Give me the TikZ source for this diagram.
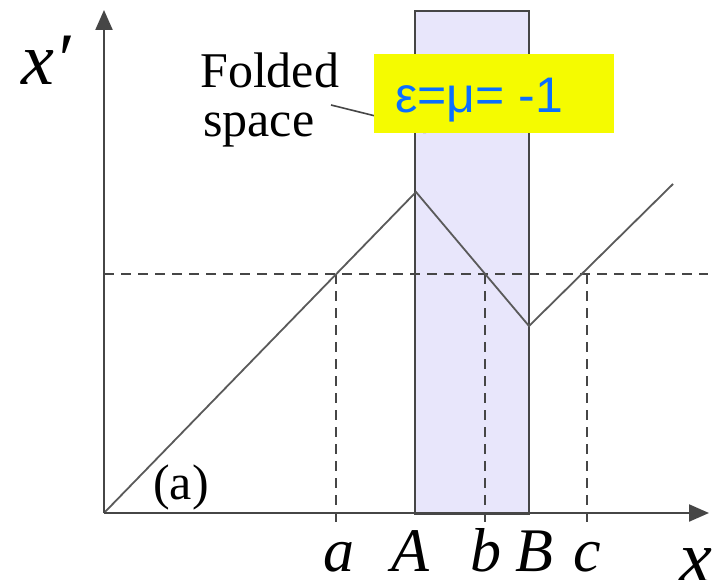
\documentclass[tikz,border=0pt]{standalone}
\usepackage{fontspec}
\setmainfont{Liberation Serif}
\newfontfamily\sansf{Liberation Sans}
\usetikzlibrary{arrows.meta}
\definecolor{lav}{RGB}{232,230,251}
\definecolor{edge}{RGB}{70,70,70}
\definecolor{ink}{RGB}{90,90,90}
\definecolor{hiyel}{RGB}{245,251,0}
\definecolor{hiblue}{RGB}{10,110,255}
\tikzset{
  axisline/.style={line width=2.2pt, draw=edge, -{Triangle[length=20pt,width=17pt]}},
  curve/.style={line width=1.8pt, draw=ink, line join=miter},
  dashline/.style={line width=1.8pt, draw=edge, dash pattern=on 10pt off 7pt},
  ticklab/.style={anchor=base, inner sep=0pt, font=\fontsize{62}{70}\selectfont\itshape},
  axlab/.style={inner sep=0pt, font=\fontsize{74}{80}\selectfont\itshape},
  txt/.style={anchor=base west, inner sep=0pt, font=\fontsize{50}{56}\selectfont},
}
\begin{document}
\begin{tikzpicture}[x=1pt,y=-1pt]
\useasboundingbox (0,0) rectangle (725,580);
\fill[white] (0,0) rectangle (725,580);
% slab
\node[fill=lav, draw=edge, line width=2.5pt, minimum width=114pt, minimum height=503pt,
      anchor=north west, inner sep=0pt, outer sep=0pt] (slab) at (415,11) {};
% key points
\coordinate (O) at (104,513);
\coordinate (ytip) at (104,10);
\coordinate (xtip) at (709,513);
\coordinate (P) at (416,192);
\coordinate (V) at (529,326);
\coordinate (E) at (673,184);
\coordinate (hl) at (104,274);
\coordinate (hr) at (708,274);
\coordinate (at) at (336,274);
\coordinate (ab) at (336,523);
\coordinate (bt) at (485,274);
\coordinate (bb) at (485,527);
\coordinate (ct) at (587,274);
\coordinate (cb) at (587,527);
% dashed lines
\draw[dashline] (hl) -- (hr);
\draw[dashline] (at) -- (ab);
\draw[dashline] (bt) -- (bb);
\draw[dashline] (ct) -- (cb);
% curve
\draw[curve] (O) -- (P) -- (V) -- (E);
% axes
\draw[axisline] (O) -- (ytip);
\draw[axisline] (O) -- (xtip);
% labels
\node[axlab, anchor=base west] (xp) at (21,85) {x′};
\node[axlab, anchor=base] (xl) at (696,582) {x};
\node[ticklab] (la) at (339,571) {a};
\node[ticklab] (lA) at (410,571) {A};
\node[ticklab] (lb) at (486,571) {b};
\node[ticklab] (lB) at (534,571) {B};
\node[ticklab] (lc) at (587,571) {c};
\node[txt] (pa) at (153,499) {(a)};
\node[txt] (fold) at (200,88) {Folded};
\node[txt] (space) at (203,137) {space};
\coordinate (lead) at (331,105);
\coordinate (leadtip) at (440,132);
\draw[line width=1.6pt, draw=edge, -{Triangle[length=16pt,width=10pt]}] (lead) -- (leadtip);
% highlight box
\node[fill=hiyel, minimum width=240pt, minimum height=79pt, anchor=north west, inner sep=0pt] (hbox) at (374,54) {};
\node[anchor=base west, inner sep=0pt, text=hiblue, font=\sansf\fontsize{50}{56}\selectfont] (eps) at (395,113) {ε=μ= -1};
\end{tikzpicture}
\end{document}
